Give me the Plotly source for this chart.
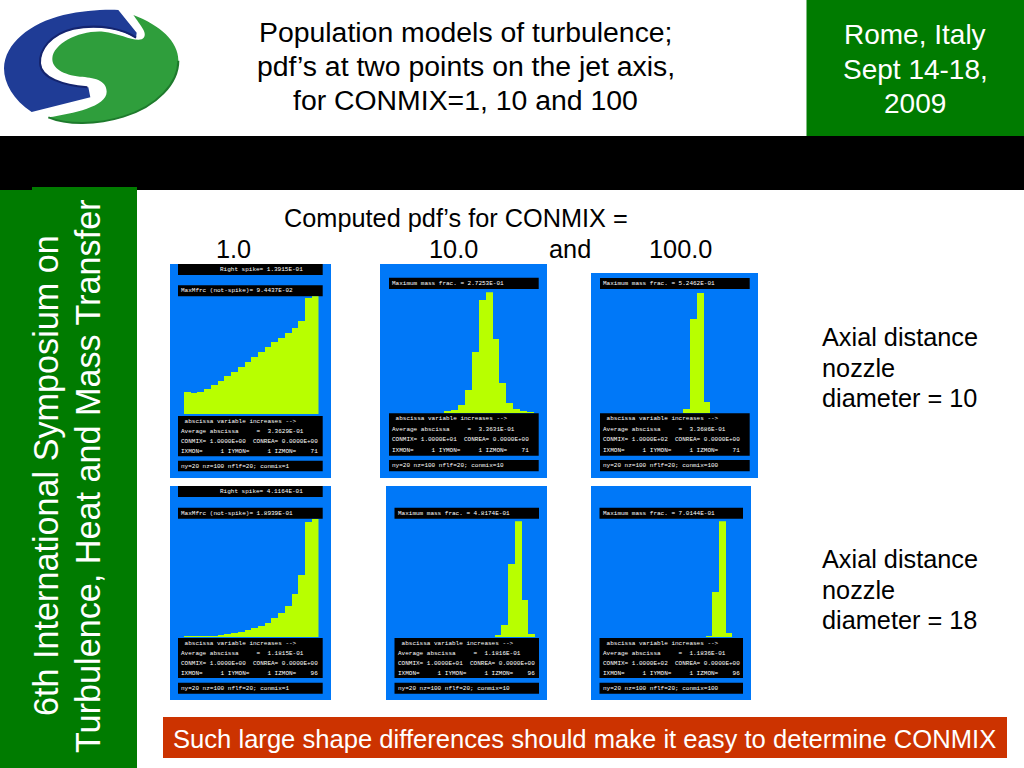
import plotly.graph_objects as go

# ---------- data ----------
bins = list(range(1, 21))
pdf_x10_c1 = [.0181, .0173, .0178, .0205, .0237, .0269, .0303, .0338, .0378, .0420,
              .0460, .0500, .0540, .0575, .0612, .0649, .0689, .0745, .0926, .0944]
pdf_x10_c10 = [0, 0, 0, 0, 0, 0, 0, .0023, .0060, .0181,
               .0519, .1370, .2550, .2725, .1660, .0677, .0226, .0075, .0023, .0008]
pdf_x10_c100 = [0, 0, 0, 0, 0, 0, 0, 0, 0, 0,
                .0005, .0189, .4127, .5246, .0480, .0010, 0, 0, 0, 0]
pdf_x18_c1 = [.0005, .0011, .0016, .0021, .0027, .0037, .0053, .0069, .0085, .0117,
              .0149, .0187, .0235, .0304, .0389, .0501, .0688, .0997, .1851, .1894]
pdf_x18_c10 = [0, 0, 0, 0, 0, 0, 0, 0, 0, 0,
               0, 0, 0, 0, .0056, .0486, .3040, .4817, .1513, .0125]
pdf_x18_c100 = [0, 0, 0, 0, 0, 0, 0, 0, 0, 0,
                0, 0, 0, 0, 0, .0005, .2729, .7014, .0243, 0]

title_lines = ["Population models of turbulence;", "pdf’s at two points on the jet axis,", "for CONMIX=1, 10 and 100"]
place_lines = ["Rome, Italy", "Sept 14-18,", "2009"]
side_lines = ["6th International Symposium on", "Turbulence, Heat and Mass Transfer"]
heading = "Computed pdf’s for CONMIX ="
conmix_labels = ["1.0", "10.0", "and", "100.0"]
axial_10 = ["Axial distance", "nozzle", "diameter = 10"]
axial_18 = ["Axial distance", "nozzle", "diameter = 18"]
footer = "Such large shape differences should make it easy to determine CONMIX"

W, H = 1024, 768
BLUE, LIME, GREEN, RED = "#0078F8", "#B8FF00", "#007B00", "#CC3300"
SANS = "Liberation Sans"
MONO = "Liberation Mono"


def px(x):
    return x / W


def py(y):
    return 1 - y / H


panels = [
    dict(v=pdf_x10_c1, box=(170, 264, 331, 478), plot=(184, 318.5, 296.3, 414.7), spike="Right spike= 1.3915E-01",
         head="MaxMfrc (not-spike)= 9.4437E-02", avg="3.3629E-01", cm="1.0000E+00", iz="71", foot="ny=20 nz=100 nflf=20; conmix=1",
         bx=(178, 322.7), rows=(264, 275, 285.3, 296.3, 416, 456.3, 460.7, 471.3)),
    dict(v=pdf_x10_c10, box=(380, 264, 547, 478), plot=(394.7, 534, 292.3, 413), spike=None,
         head="Maximum mass frac. = 2.7253E-01", avg="3.3631E-01", cm="1.0000E+01", iz="71", foot="ny=20 nz=100 nflf=20; conmix=10",
         bx=(389, 538.7), rows=(None, None, 277.7, 289, 413.3, 455.7, 460, 471.3)),
    dict(v=pdf_x10_c100, box=(591, 273, 758, 478), plot=(605.7, 745, 292.7, 413), spike=None,
         head="Maximum mass frac. = 5.2462E-01", avg="3.3686E-01", cm="1.0000E+02", iz="71", foot="ny=20 nz=100 nflf=20; conmix=100",
         bx=(600, 749.7), rows=(None, None, 278, 289, 413.3, 455.7, 460, 471.3)),
    dict(v=pdf_x18_c1, box=(170, 486, 331, 700), plot=(184, 318.5, 518.7, 637), spike="Right spike= 4.1164E-01",
         head="MaxMfrc (not-spike)= 1.8939E-01", avg="1.1815E-01", cm="1.0000E+00", iz="96", foot="ny=20 nz=100 nflf=20; conmix=1",
         bx=(178, 322.7), rows=(486, 497, 507.7, 518.7, 638, 678, 682.7, 693.7)),
    dict(v=pdf_x18_c10, box=(386, 486, 547, 700), plot=(400, 535, 521.3, 637), spike=None,
         head="Maximum mass frac. = 4.8174E-01", avg="1.1816E-01", cm="1.0000E+01", iz="96", foot="ny=20 nz=100 nflf=20; conmix=10",
         bx=(394.5, 539), rows=(None, None, 507.7, 518.7, 638, 678, 682.7, 693.7)),
    dict(v=pdf_x18_c100, box=(591, 486, 751, 700), plot=(605, 739, 521.3, 637), spike=None,
         head="Maximum mass frac. = 7.0144E-01", avg="1.1836E-01", cm="1.0000E+02", iz="96", foot="ny=20 nz=100 nflf=20; conmix=100",
         bx=(599.5, 743), rows=(None, None, 507.7, 518.7, 638, 678, 682.7, 693.7)),
]

fig = go.Figure()
shapes, annos = [], []


def rect(x0, y0, x1, y1, color, layer="below"):
    shapes.append(dict(type="rect", xref="paper", yref="paper", x0=px(x0), x1=px(x1), y0=py(y0), y1=py(y1),
                       fillcolor=color, line=dict(width=0), layer=layer))


def text(x, y, t, size, color="#000000", family=SANS, anchor="center", angle=0):
    annos.append(dict(xref="paper", yref="paper", x=px(x), y=py(y), text=t, showarrow=False,
                      font=dict(size=size, color=color, family=family), xanchor=anchor, yanchor="middle",
                      align=anchor, textangle=angle, borderpad=0, borderwidth=0))


def logo_path(points, close=True):
    out = []
    for cmd, *coords in points:
        vals = []
        for i in range(0, len(coords), 2):
            vals.append(f"{px(coords[i] / 3):.5f},{py(coords[i + 1] / 3):.5f}")
        out.append(cmd + " ".join(vals))
    return " ".join(out) + (" Z" if close else "")


# page furniture
rect(0, 136, 1024, 190, "#000000")
rect(806.5, 0, 1024, 136, GREEN)
rect(32, 187, 137, 190, GREEN)
rect(0, 190, 137, 768, GREEN)
rect(163, 717, 1007, 758, RED)

blue_logo = [("M", 355, 30), ("L", 410, 98), ("L", 408, 115), ("C", 370, 90, 300, 72, 220, 88),
             ("C", 150, 105, 120, 150, 122, 190), ("C", 125, 235, 190, 258, 265, 262), ("L", 271, 292),
             ("L", 95, 336), ("C", 40, 300, 12, 250, 12, 205), ("C", 14, 130, 90, 70, 190, 45), ("C", 250, 32, 310, 28, 355, 30)]
green_logo = [("M", 400, 45), ("C", 480, 75, 535, 125, 535, 180), ("C", 535, 250, 470, 320, 370, 350),
              ("C", 290, 375, 200, 375, 145, 352), ("C", 220, 340, 320, 320, 320, 275), ("C", 320, 240, 280, 232, 240, 230),
              ("C", 190, 225, 155, 205, 157, 175), ("C", 160, 130, 240, 90, 310, 95), ("C", 360, 100, 400, 125, 425, 118),
              ("C", 450, 105, 420, 75, 400, 45)]
blue_rim = [("M", 408, 113), ("C", 370, 88, 300, 70, 220, 86), ("C", 150, 103, 118, 150, 120, 190),
            ("C", 123, 235, 190, 256, 262, 262)]
green_rim = [("M", 535, 182), ("C", 535, 250, 470, 320, 370, 350), ("C", 290, 375, 200, 375, 145, 352)]
for pts, col in ((blue_logo, "#1F3C96"), (green_logo, "#2F9E3C")):
    shapes.append(dict(type="path", xref="paper", yref="paper", path=logo_path(pts), fillcolor=col,
                       line=dict(width=0), layer="below"))
for pts, col in ((blue_rim, "#14246E"), (green_rim, "#1E7A2C")):
    shapes.append(dict(type="path", xref="paper", yref="paper", path=logo_path(pts, close=False),
                       line=dict(width=2, color=col), layer="below"))

# panels
for i, p in enumerate(panels, start=1):
    x0, y0, x1, y1 = p["box"]
    rect(x0, y0, x1, y1, BLUE)
    xl, xr = p["bx"]
    r = p["rows"]
    if p["spike"]:
        rect(xl, r[0], xr, r[1], "#000000")
        text((xl + xr) / 2 + 11, (r[0] + r[1]) / 2, p["spike"], 6, "#FFFFFF", MONO)
    rect(xl, r[2], xr, r[3], "#000000")
    text(xl + 3, (r[2] + r[3]) / 2, p["head"], 6, "#FFFFFF", MONO, anchor="left")
    rect(xl, r[4], xr, r[5], "#000000")
    step = (r[5] - r[4]) / 4
    rows = [" abscissa variable increases -->",
            f"Average abscissa     =  {p['avg']}",
            f"CONMIX= {p['cm']}  CONREA= 0.0000E+00",
            f"IXMON=     1 IYMON=     1 IZMON=    {p['iz']}"]
    for k, row in enumerate(rows):
        text(xl + 3, r[4] + step * (k + .5), row.replace(" ", "&nbsp;"), 6, "#FFFFFF", MONO, anchor="left")
    rect(xl, r[6], xr, r[7], "#000000")
    text(xl + 3, (r[6] + r[7]) / 2, p["foot"], 6, "#FFFFFF", MONO, anchor="left")

    ax = "" if i == 1 else str(i)
    fig.add_trace(go.Bar(x=bins, y=p["v"], marker=dict(color=LIME, line=dict(width=0)), width=1,
                         xaxis="x" + ax, yaxis="y" + ax, showlegend=False, hoverinfo="skip"))
    pl, pr, pt, pb = p["plot"]
    common = dict(showgrid=False, zeroline=False, showticklabels=False, ticks="", showline=False, fixedrange=True)
    fig.layout["xaxis" + ax] = dict(domain=[px(pl), px(pr)], range=[.5, 20.5], anchor="y" + ax, **common)
    fig.layout["yaxis" + ax] = dict(domain=[py(pb), py(pt)], range=[0, max(p["v"])], anchor="x" + ax, **common)

# texts
for ty, line in zip((32, 66, 100), title_lines):
    text(465.5, ty, line, 28.4)
for ty, line in zip((35, 69, 103), place_lines):
    text(915, ty, line, 28, "#FFFFFF")
text(46, 476, side_lines[0], 34.2, "#FFFFFF", angle=-90)
text(88, 476, side_lines[1], 34.2, "#FFFFFF", angle=-90)
text(456, 218, heading, 25.3)
for xp, lab in zip((233, 453, 570, 680), conmix_labels):
    text(xp, 249, lab, 25.3)
for ty, line in zip((337, 368, 398), axial_10):
    text(822, ty, line, 25.3, anchor="left")
for ty, line in zip((559, 590, 620), axial_18):
    text(822, ty, line, 25.3, anchor="left")
text(584, 738.5, footer, 25.6, "#FFFFFF")

fig.update_layout(width=W, height=H, margin=dict(l=0, r=0, t=0, b=0), paper_bgcolor="#FFFFFF",
                  plot_bgcolor="rgba(0,0,0,0)", bargap=0, shapes=shapes, annotations=annos,
                  showlegend=False, font=dict(family=SANS))
fig.write_html("out.html", config=dict(displayModeBar=False),
               post_script="document.body.style.margin='0';document.documentElement.style.overflow='hidden';")
